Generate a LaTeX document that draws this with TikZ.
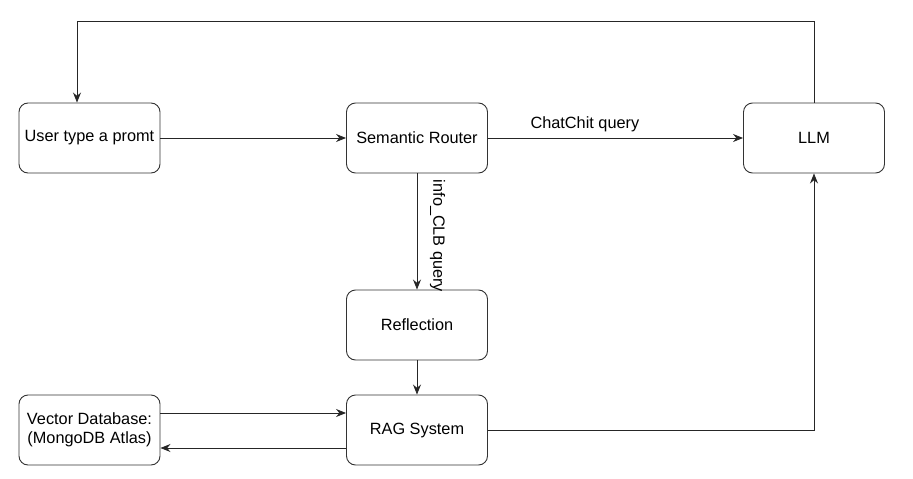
\documentclass[tikz,border=0pt]{standalone}
\usepackage{fontspec}
\setmainfont{Liberation Sans}
\usetikzlibrary{arrows.meta}
\begin{document}
\begin{tikzpicture}[x=1pt,y=-1pt,
  box/.style={draw=black!80,line width=0.9pt,rounded corners=9pt,minimum width=141pt,minimum height=70pt,inner sep=0pt,align=center,font=\fontsize{16.3}{19}\selectfont},
  conn/.style={draw=black!85,line width=0.9pt,-{Stealth[length=10pt,width=8pt]}},
  lab/.style={font=\fontsize{16.3}{19}\selectfont,inner sep=0pt}]
\useasboundingbox (0,0) rectangle (913,479);
\node[box] (user) at (89.5,138) {User type a promt};
\node[box] (router) at (417,138) {Semantic Router};
\node[box] (llm) at (814,138) {LLM};
\node[box] (refl) at (417,325) {Reflection};
\node[box] (rag) at (417,430) {RAG System};
\node[box] (vdb) at (89.5,430) {Vector Database:\\(MongoDB Atlas)};
\coordinate (tl) at (77,21);
\coordinate (tr) at (814,21);
\draw[conn] (user) -- (router);
\draw[conn] (router) -- node[lab,above=6pt,pos=0.38]{ChatChit query} (llm);
\draw[conn] (router) -- (refl);
\node[lab,rotate=-90] (infolab) at (437.5,236) {info\_CLB query};
\draw[conn] (refl) -- (rag);
\draw[conn] (vdb.east|-0,413) -- (rag.west|-0,413);
\draw[conn] (rag.west|-0,448) -- (vdb.east|-0,448);
\draw[conn] (rag.east) -| (llm.south);
\draw[conn] (llm.north) |- (tr) -- (tl) -- (user.north-|tl);
\end{tikzpicture}
\end{document}
